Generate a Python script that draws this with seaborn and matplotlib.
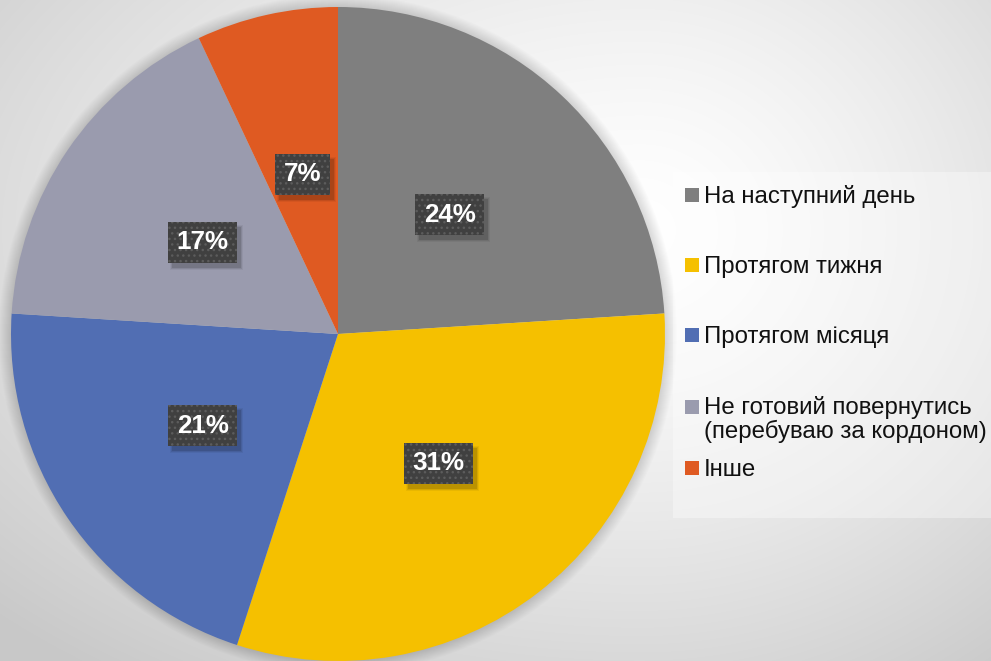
import matplotlib
matplotlib.use('Agg')

import numpy as np
import matplotlib.pyplot as plt
from matplotlib.patches import Rectangle, Circle
import seaborn as sns

# ==============================================================================
# Дані
# ==============================================================================
categories = [
    'На наступний день',
    'Протягом тижня',
    'Протягом місяця',
    'Не готовий повернутись\n(перебуваю за кордоном)',
    'Інше',
]
shares = [24, 31, 21, 17, 7]
slice_colors = ['#7f7f7f', '#f5c000', '#516eb3', '#9a9bae', '#df5a22']

# ==============================================================================
# Стиль
# ==============================================================================
sns.set_theme(style="white")
plt.rcParams['font.family'] = ['Liberation Sans', 'DejaVu Sans']

W, H = 991, 661
fig = plt.figure(figsize=(W / 100, H / 100), dpi=100)
ax = fig.add_axes([0, 0, 1, 1])

# фон: м'який градієнт (світліший праворуч від діаграми)
yy, xx = np.mgrid[0:H, 0:W]
rx = np.where(xx < 640, 900, 620)
r = np.sqrt(((xx - 640) / rx) ** 2 + ((yy - 230) / 560) ** 2)
shade = 255 - 55 * np.clip(r, 0, 1) ** 1.4
bg = np.dstack([shade, shade, shade]).astype(np.uint8)
ax.imshow(bg, extent=(0, W, 0, H), zorder=0, interpolation='bilinear')

# кругова діаграма
pie_center = (338, H - 334)
pie_radius = 327

# м'яка тінь навколо діаграми
for k in range(1, 13):
    ax.add_patch(Circle(pie_center, pie_radius + k, facecolor='black',
                        edgecolor='none', alpha=0.012, zorder=1))

wedges, texts, autotexts = ax.pie(
    shares, colors=slice_colors, startangle=90, counterclock=False,
    center=pie_center, radius=pie_radius,
    autopct=lambda p: f'{p:.0f}%', pctdistance=0.5,
    wedgeprops=dict(linewidth=0, zorder=2),
    textprops=dict(color='white', fontsize=18.7, fontweight='bold'),
)

for t in autotexts:
    t.set_zorder(6)
    t.set_bbox(dict(boxstyle='square,pad=0.33', facecolor='#404040',
                    edgecolor='#5c5c5c', linewidth=0, hatch='...'))

ax.set_xlim(0, W)
ax.set_ylim(0, H)
ax.set_aspect('equal')
ax.axis('off')

# тіні під підписами (прямокутники за рамками підписів)
fig.canvas.draw()
inv = ax.transData.inverted()
for t in autotexts:
    ext = t.get_bbox_patch().get_window_extent()
    (x0, y0), (x1, y1) = inv.transform([[ext.x0, ext.y0], [ext.x1, ext.y1]])
    for k, a in [(0, 0.12), (1, 0.08), (2, 0.05)]:
        ax.add_patch(Rectangle((x0 + 4 - k, y0 - 5 - k), x1 - x0 + 2 * k,
                               y1 - y0 + 2 * k, facecolor='black',
                               edgecolor='none', alpha=a, zorder=5))

# легенда (вручну, як у вихідному графіку)
ax.add_patch(Rectangle((673, H - 518), 330, 346, facecolor='white',
                       edgecolor='none', alpha=0.35, zorder=1))
legend_baselines = [203, 273, 343, 415, 476]
line_step = 23
for label, color, base in zip(categories, slice_colors, legend_baselines):
    ax.scatter([692], [H - base + 8], marker='s', s=88, color=color,
               linewidths=0, zorder=5)
    last_base = base + line_step * label.count('\n')
    ax.text(704, H - last_base, label, fontsize=17.3, color='#111111',
            va='baseline', ha='left', linespacing=1.05, zorder=5)

plt.savefig('out.png', dpi=100)
plt.close()
